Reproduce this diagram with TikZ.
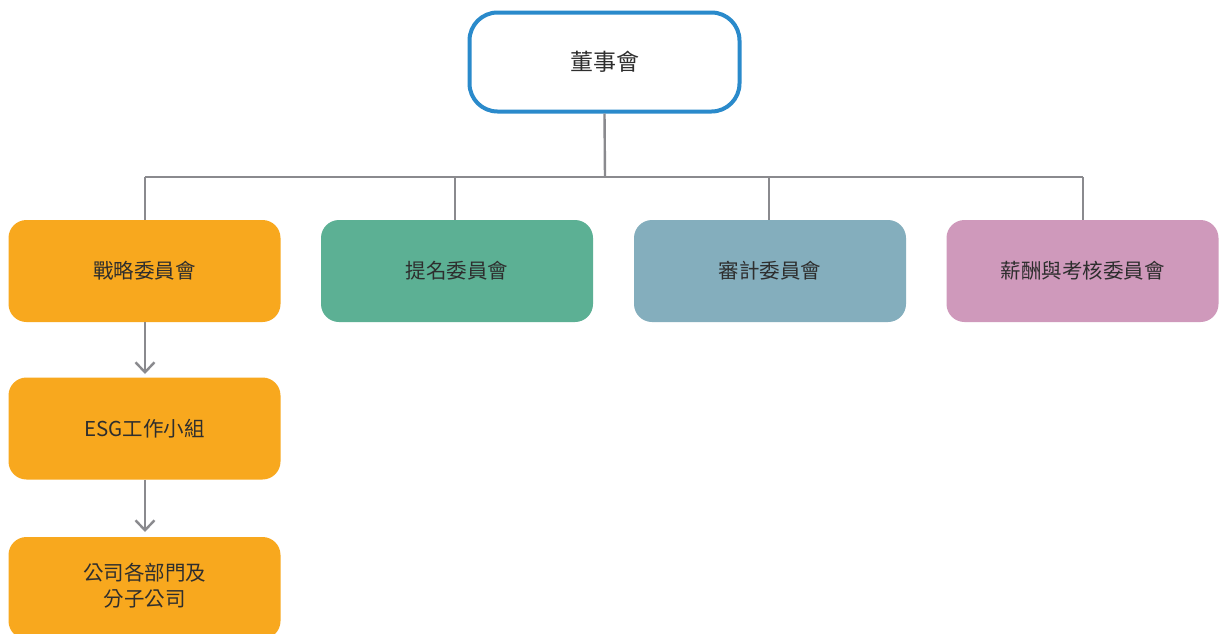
\documentclass[tikz,border=0pt]{standalone}
\usepackage{fontspec}
\setmainfont{Noto Sans CJK TC}
\usetikzlibrary{arrows.meta}
\definecolor{boardblue}{HTML}{2A8ACB}
\definecolor{orangec}{HTML}{F8A81E}
\definecolor{greenc}{HTML}{5CB094}
\definecolor{greyblue}{HTML}{84AEBD}
\definecolor{pinkc}{HTML}{CF99BB}
\definecolor{linec}{HTML}{8A8A8E}
\definecolor{textc}{HTML}{2E2E2E}
\tikzset{
  comm/.style={rounded corners=18pt, minimum width=272pt, minimum height=102pt, inner sep=0pt, text=textc, font=\fontsize{20.5pt}{25pt}\selectfont, align=center},
  conn/.style={draw=linec, line width=2.4pt},
  arr/.style={conn, -{Straight Barb[length=10pt,width=19pt,line width=2.4pt]}}
}
\begin{document}
\begin{tikzpicture}[x=1pt,y=-1pt]
\useasboundingbox (0,0) rectangle (1219,633);
\clip (0,0) rectangle (1219,633);
\fill[white] (0,0) rectangle (1219,633);
\node[draw=boardblue, line width=4pt, fill=white, rounded corners=28pt, minimum width=270pt, minimum height=99pt, inner sep=0pt, text=textc, font=\fontsize{23pt}{27pt}\selectfont] (board) at (604.5,62) {董事會};
\node[comm, fill=orangec] (strat) at (144.5,271) {戰略委員會};
\node[comm, fill=greenc] (nom) at (457,271) {提名委員會};
\node[comm, fill=greyblue] (audit) at (770,271) {審計委員會};
\node[comm, fill=pinkc] (rem) at (1082.5,271) {薪酬與考核委員會};
\node[comm, fill=orangec] (esg) at (144.5,428.5) {ESG工作小組};
\node[comm, fill=orangec] (dept) at (144.5,588) {};
\node[text=textc, font=\fontsize{20.5pt}{26pt}\selectfont, align=center] (deptlabel) at (144.5,586) {公司各部門及\\分子公司};
\coordinate (bus) at (605,177);
\draw[conn] (board.south) -- (bus);
\draw[conn] (145,177) -- (1083,177);
\draw[conn] (145,177) -- (145,220);
\draw[conn] (455,177) -- (455,220);
\draw[conn] (769,177) -- (769,220);
\draw[conn] (1083,177) -- (1083,220);
\draw[arr] (strat.south -| 145,0) -- (145,374);
\draw[arr] (esg.south -| 145,0) -- (145,532);
\end{tikzpicture}
\end{document}
